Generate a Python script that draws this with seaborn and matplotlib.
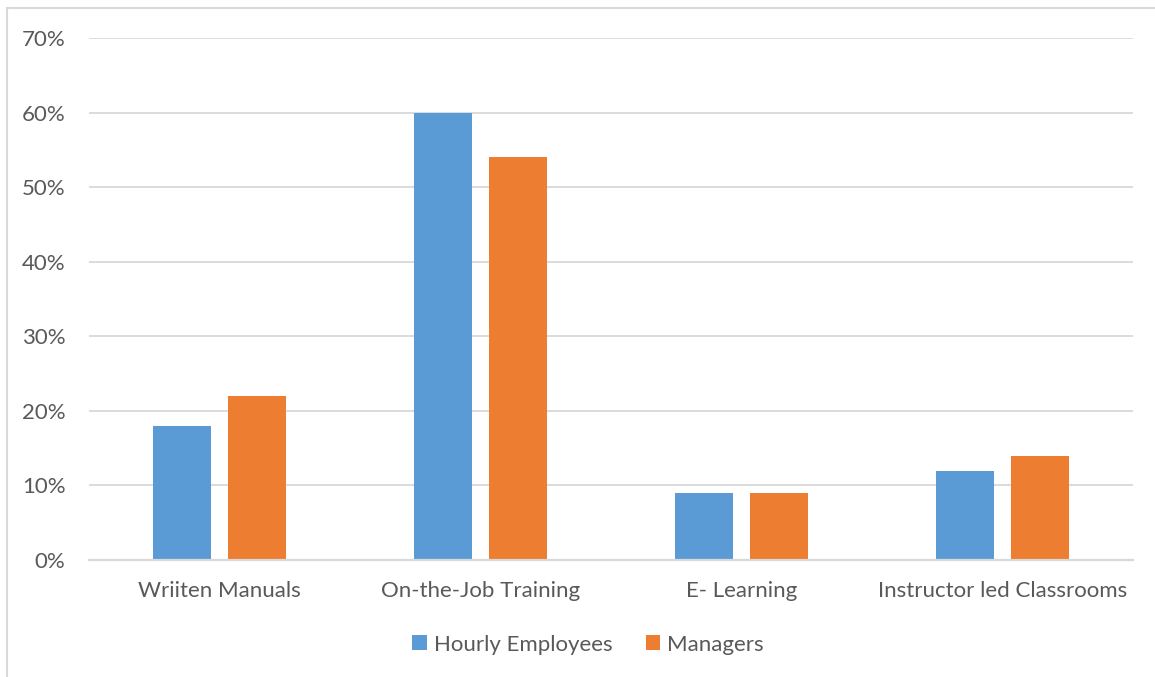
import matplotlib
matplotlib.use("Agg")
import matplotlib.pyplot as plt
import seaborn as sns
import pandas as pd
from matplotlib.patches import Rectangle
from matplotlib.ticker import PercentFormatter

categories = ["Wriiten Manuals", "On-the-Job Training", "E- Learning", "Instructor led Classrooms"]
series_names = ["Hourly Employees", "Managers"]
hourly = [0.18, 0.60, 0.09, 0.12]
managers = [0.22, 0.54, 0.09, 0.14]
colors = ["#5B9BD5", "#ED7D31"]

df = pd.DataFrame({
    "category": categories * 2,
    "series": [series_names[0]] * 4 + [series_names[1]] * 4,
    "value": hourly + managers,
})

sns.set_theme(style="white")
plt.rcParams['font.family'] = ['Lato', 'DejaVu Sans']
text_color = "#595959"
grid_color = "#D9D9D9"
fs = 16

fig = plt.figure(figsize=(11.55, 6.77), dpi=100)
ax = fig.add_axes([89/1155, 117/677, (1133-89)/1155, (560-38)/677])

sns.barplot(data=df, x="category", y="value", hue="series", order=categories,
            hue_order=series_names, palette=colors, width=0.57, gap=0.22,
            saturation=1, ax=ax, legend=True, edgecolor="none", linewidth=0)

ax.set_ylim(0, 0.70)
ax.set_yticks([i/10 for i in range(8)])
ax.yaxis.set_major_formatter(PercentFormatter(1.0, decimals=0))
ax.set_xlim(-0.5, 3.5)
ax.grid(axis="y", color=grid_color, linewidth=1.3)
ax.set_axisbelow(True)
for s in ["top", "right", "left"]:
    ax.spines[s].set_visible(False)
ax.spines["bottom"].set_color(grid_color)
ax.spines["bottom"].set_linewidth(1.6)
ax.tick_params(axis="both", length=0, labelsize=fs, colors=text_color)
ax.tick_params(axis="y", pad=17)
ax.tick_params(axis="x", pad=15)
ax.set_xlabel("")
ax.set_ylabel("")

handles, labels = ax.get_legend_handles_labels()
ax.get_legend().remove()
fig.legend(handles, labels, loc="center", bbox_to_anchor=(0.509, 0.048), ncol=2,
           frameon=False, fontsize=fs, labelcolor=text_color,
           handlelength=0.65, handleheight=0.65, handletextpad=0.3, columnspacing=1.5)

fig.patches.append(Rectangle((7/1155, -0.1), 1.2, 669/677 + 0.1, transform=fig.transFigure,
                             fill=False, edgecolor=grid_color, linewidth=1.5))

fig.savefig("out.png", dpi=100)
